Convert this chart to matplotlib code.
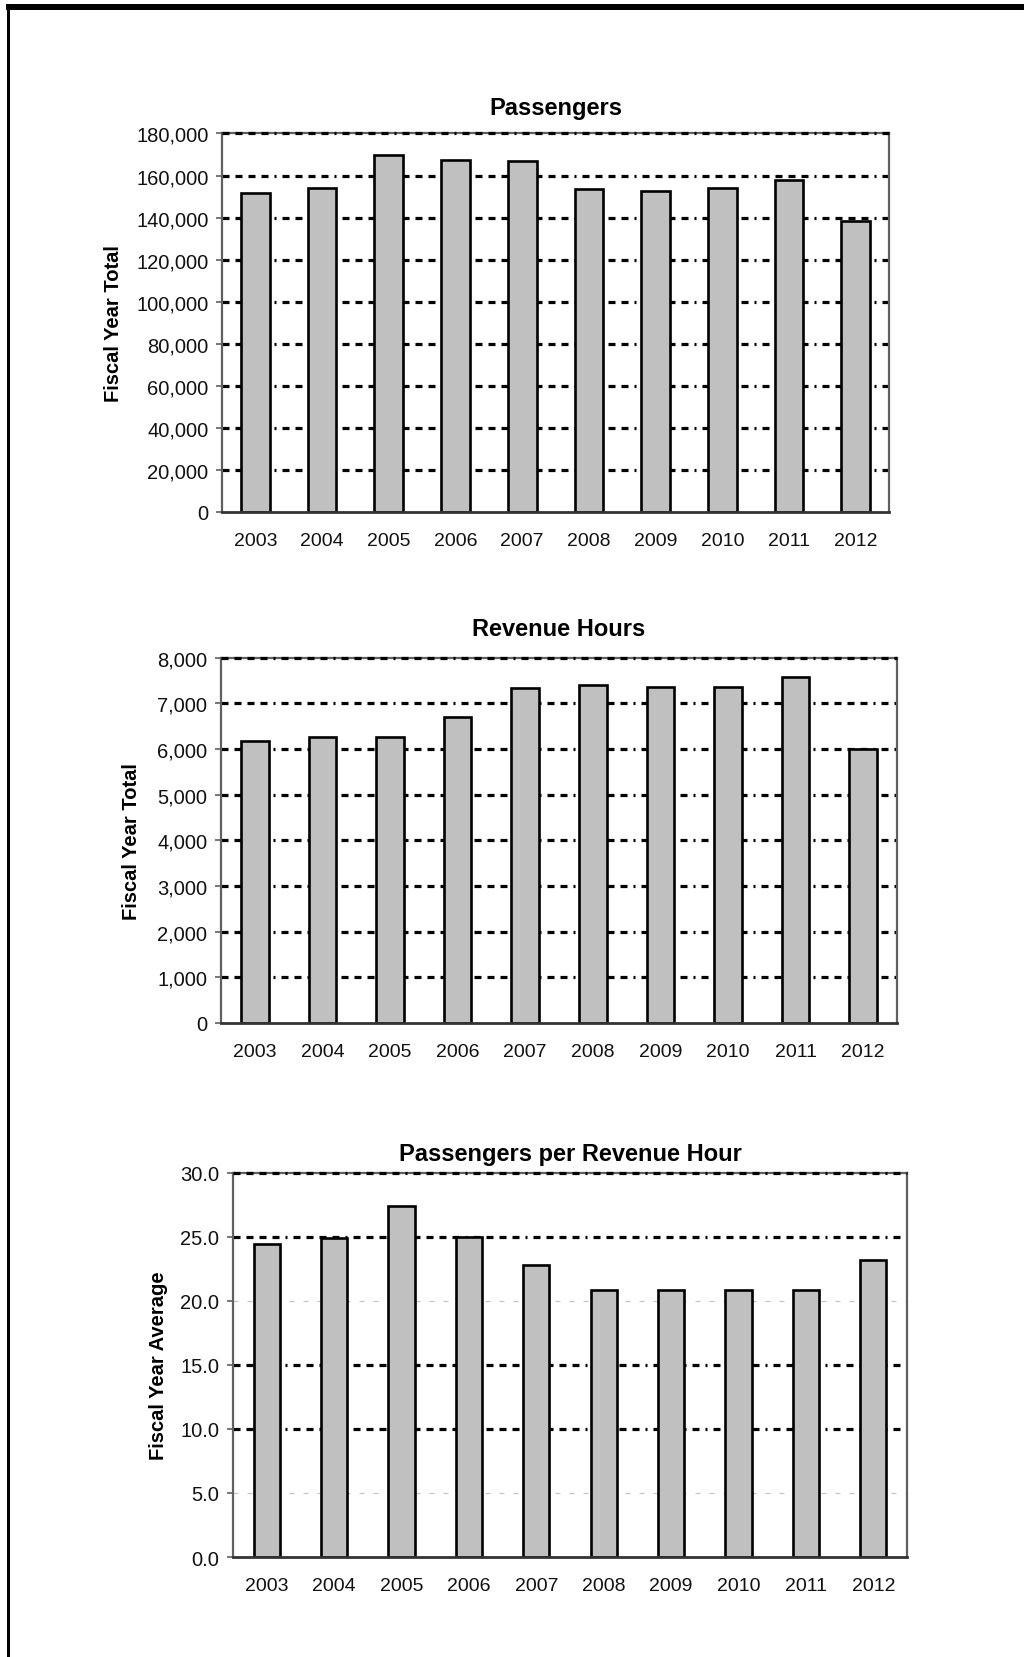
#!/usr/bin/python3
# Three bar panels: passengers, revenue hours and passengers per revenue hour by fiscal year
import numpy as np
import matplotlib
matplotlib.use('Agg')
import matplotlib.pyplot as plt
from matplotlib.ticker import StrMethodFormatter
from matplotlib.lines import Line2D

plt.rcParams['font.family'] = ['Liberation Sans', 'DejaVu Sans']
plt.rcParams['lines.scale_dashes'] = False

years = ['2003', '2004', '2005', '2006', '2007', '2008', '2009', '2010', '2011', '2012']
passengers = [151600, 154000, 169700, 167400, 167100, 153800, 152700, 154000, 157800, 138200]
rev_hours = [6180, 6255, 6255, 6695, 7340, 7405, 7350, 7350, 7575, 5995]
pass_per_hour = [24.4, 24.9, 27.4, 25.0, 22.8, 20.8, 20.8, 20.8, 20.8, 23.2]

PX = 0.72  # points per pixel at 100 dpi

# dashed pattern of the heavy gridlines (points)
grid_dash = (0, tuple(v * PX for v in (7, 6, 7, 6, 7, 6, 7, 6, 2, 6)))
light_dash = (0, tuple(v * PX for v in (5, 9)))


def draw_panel(fig, rect, values, title, ylabel, ymax, ystep, fmt, width, title_pad, label_x, light=()):
	ax = fig.add_axes(rect)
	x = np.arange(len(years))
	ax.bar(x, values, width=width, color='#c0c0c0', edgecolor='black', linewidth=1.9, zorder=2)
	ax.set_xlim(-0.5, len(years) - 0.5)
	ax.set_ylim(0, ymax)
	ticks = np.arange(0, ymax + ystep / 2, ystep)
	ax.set_yticks(ticks)
	ax.yaxis.set_major_formatter(StrMethodFormatter(fmt))
	ax.set_xticks(x)
	ax.set_xticklabels(years)

	#gridlines, the top one sits over the frame
	for t in ticks[1:]:
		if any(np.isclose(t, l) for l in light):
			ax.axhline(t, color='#c4c4c4', lw=0.9, ls=light_dash, zorder=1)
		else:
			ax.axhline(t, color='black', lw=2.3, ls=grid_dash,
				zorder=3 if np.isclose(t, ymax) else 1, clip_on=False)

	for side in ('left', 'right', 'top'):
		ax.spines[side].set_color('#606060')
		ax.spines[side].set_linewidth(1.6)
	ax.spines['bottom'].set_color('#333333')
	ax.spines['bottom'].set_linewidth(2.0)

	ax.tick_params(axis='y', direction='out', length=4.3, width=1.2, color='#606060',
		pad=5.5, labelsize=14.5, labelcolor='#111111')
	ax.tick_params(axis='x', length=0, pad=14.5, labelsize=14, labelcolor='#111111')

	ax.set_title(title, fontsize=17, fontweight='bold', pad=title_pad)
	ax.set_ylabel(ylabel, fontsize=14.5, fontweight='bold', va='center')
	ax.yaxis.set_label_coords(label_x, 0.5)
	return ax


fig = plt.figure(figsize=(10.24, 16.58), dpi=100)

draw_panel(fig, [0.2168, 0.6906, 0.6514, 0.2283], passengers, 'Passengers',
	'Fiscal Year Total', 180000, 20000, '{x:,.0f}', 0.43, 19.5 * PX, -0.163)
draw_panel(fig, [0.2158, 0.3824, 0.6602, 0.2204], rev_hours, 'Revenue Hours',
	'Fiscal Year Total', 8000, 1000, '{x:,.0f}', 0.41, 22.5 * PX, -0.132)
draw_panel(fig, [0.2275, 0.0603, 0.6582, 0.2319], pass_per_hour, 'Passengers per Revenue Hour',
	'Fiscal Year Average', 30, 5, '{x:.1f}', 0.39, 13 * PX, -0.11, light=(5, 20))

#page frame: heavy top rule and thin left rule
fig.add_artist(Line2D([6 / 1024, 1], [1 - 8 / 1658] * 2, transform=fig.transFigure,
	color='black', lw=6 * PX, solid_capstyle='butt'))
fig.add_artist(Line2D([7.5 / 1024] * 2, [0, 1 - 5 / 1658], transform=fig.transFigure,
	color='black', lw=3 * PX, solid_capstyle='butt'))

fig.savefig('out.png', dpi=100)
